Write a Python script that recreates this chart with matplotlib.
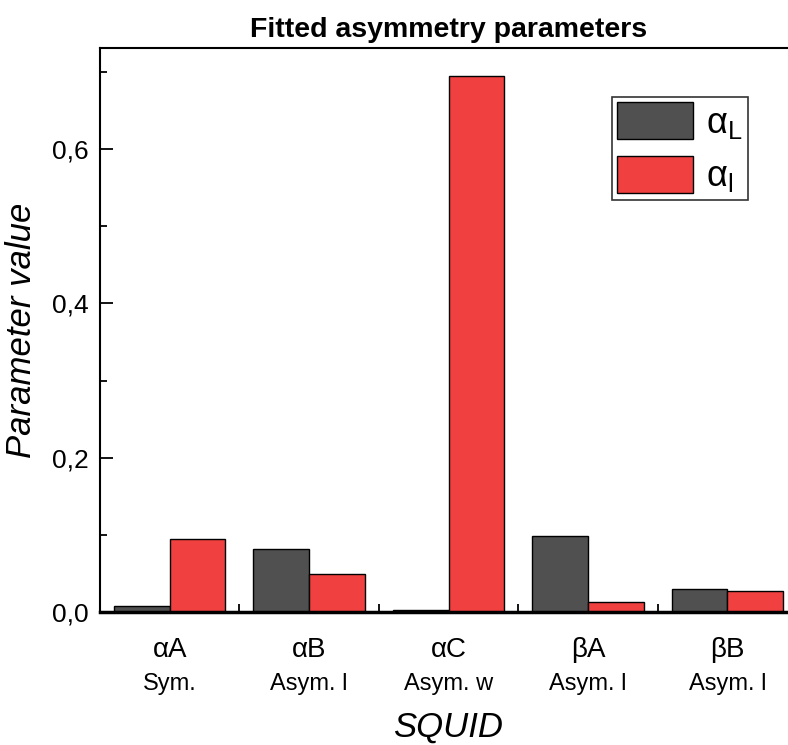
import matplotlib.pyplot as plt
import numpy as np
from matplotlib.ticker import MultipleLocator, FuncFormatter
from matplotlib.transforms import blended_transform_factory

plt.rcParams['font.family'] = ['Liberation Sans', 'DejaVu Sans']

# ---------- datos ----------
squids = ['αA', 'αB', 'αC', 'βA', 'βB']
tipo = ['Sym.', 'Asym. l', 'Asym. w', 'Asym. l', 'Asym. l']
alpha_L = [0.008, 0.082, 0.002, 0.099, 0.030]
alpha_l = [0.095, 0.049, 0.695, 0.013, 0.027]

x = np.arange(len(squids))
ancho = 0.4

fig = plt.figure(figsize=(7.88, 7.45), dpi=100)
ax = fig.add_axes([100/788, 1 - 612/745, 697/788, 564/745])

ax.bar(x - ancho/2, alpha_L, ancho, color='#505050', edgecolor='black', linewidth=1,
       label=r'$\mathregular{\alpha_L}$')
ax.bar(x + ancho/2, alpha_l, ancho, color='#F04040', edgecolor='black', linewidth=1,
       label=r'$\mathregular{\alpha_l}$')

ax.set_xlim(-0.5, 4.5)
ax.set_ylim(0, 0.731)

# eje y
ax.yaxis.set_major_locator(MultipleLocator(0.2))
ax.yaxis.set_minor_locator(MultipleLocator(0.1))
ax.yaxis.set_major_formatter(FuncFormatter(lambda v, p: f'{v:.1f}'.replace('.', ',')))
ax.tick_params(axis='y', which='major', direction='in', length=9, width=1.3, labelsize=19, pad=8)
ax.tick_params(axis='y', which='minor', direction='in', length=5, width=1.3)

# eje x: nombre del SQUID + tipo debajo
ax.set_xticks(x)
ax.set_xticklabels(squids)
ax.set_xticks(x[:-1] + 0.5, minor=True)
ax.tick_params(axis='x', which='major', length=0, labelsize=20, pad=18)
ax.tick_params(axis='x', which='minor', direction='in', length=6, width=1.3)

trans = blended_transform_factory(ax.transData, ax.transAxes)
for xi, t in zip(x, tipo):
    ax.text(xi, -0.128, t, transform=trans, ha='center', va='center', fontsize=17)

for s in ['left', 'top', 'right']:
    ax.spines[s].set_linewidth(1.5)
ax.spines['bottom'].set_linewidth(2.5)

ax.set_title('Fitted asymmetry parameters', fontsize=20.5, fontweight='bold', pad=8)
ax.set_ylabel('Parameter value', fontsize=25, style='italic', labelpad=10)
ax.set_xlabel('SQUID', fontsize=25, style='italic', labelpad=34)

leg = ax.legend(loc='upper right', bbox_to_anchor=(0.929, 0.913), borderaxespad=0, fontsize=26,
                frameon=True, fancybox=False, edgecolor='black', handlelength=2.1, handleheight=1.2,
                borderpad=0.15, labelspacing=0.4, handletextpad=0.35)
leg.get_frame().set_linewidth(1.2)

plt.savefig('out.png', dpi=100)
